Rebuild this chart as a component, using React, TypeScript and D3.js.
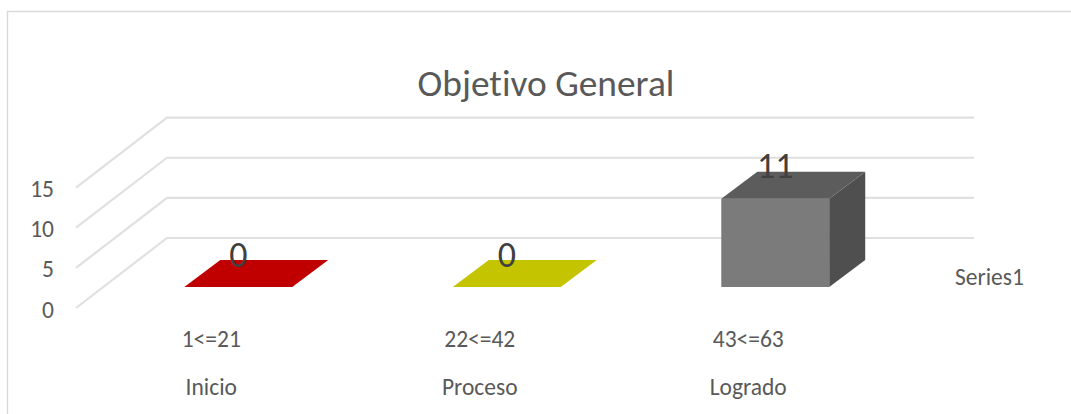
import * as d3 from 'd3';

const categories = ['Inicio', 'Proceso', 'Logrado'];
const ranges = ['1<=21', '22<=42', '43<=63'];
const values = [0, 0, 11];
const barColors = ['#c00000', '#c4c400', '#7b7b7b'];
const topColors = ['#c00000', '#c4c400', '#5c5c5c'];
const sideColors = ['#a00000', '#a3a300', '#4f4f4f'];
const yTicks = [0, 5, 10, 15];

const width = 1071;
const height = 414;
const font = 'Carlito, Calibri, Lato, sans-serif';

// floor of the 3D box: front-left corner and how far the back wall is shifted
const floorY = 308;
const wallDx = 91;
const wallDy = -70;
const gridRight = 974;
// bars sit part way into the floor
const barDx = 36;
const barDy = -27;
const barFrontY = 287;

const x = d3.scaleBand<string>()
  .domain(categories)
  .range([104, 909.5])
  .paddingInner(0.598)
  .paddingOuter(0.299);

const y = d3.scaleLinear().domain([0, 15]).range([0, -120.4]);

const line = d3.line();

export default function App() {
  return (
    <svg
      width={width}
      height={height}
      style={{ position: 'absolute', left: 0, top: 0, background: '#fff', fontVariantLigatures: 'none' }}
      fontFamily={font}
    >
      {/* only the top and left of the chart frame are in the picture */}
      <path d="M7.5,414V11.5H1071" fill="none" stroke="#d9d9d9" strokeWidth={1.4} />

      <text x={546} y={96} textAnchor="middle" fontSize={37.4} fill="#595959">
        Objetivo General
      </text>

      {yTicks.map((t) => (
        <g key={t}>
          <path
            d={line([
              [76, floorY + y(t)],
              [76 + wallDx, floorY + wallDy + y(t)],
              [gridRight, floorY + wallDy + y(t)],
            ]) ?? ''}
            fill="none"
            stroke="#e0e0e0"
            strokeWidth={2.2}
          />
          <text x={54} y={floorY + y(t) + 9.5} textAnchor="end" fontSize={23.5} fill="#595959">
            {t}
          </text>
        </g>
      ))}

      {categories.map((c, i) => {
        const x0 = x(c) ?? 0;
        const x1 = x0 + x.bandwidth();
        const top = barFrontY + y(values[i]);
        return (
          <g key={c}>
            {values[i] > 0 && (
              <>
                <rect x={x0} y={top} width={x.bandwidth()} height={barFrontY - top} fill={barColors[i]} />
                <path
                  d={`${line([
                    [x1, top],
                    [x1 + barDx, top + barDy],
                    [x1 + barDx, barFrontY + barDy],
                    [x1, barFrontY],
                  ])}Z`}
                  fill={sideColors[i]}
                />
              </>
            )}
            <path
              d={`${line([
                [x0, top],
                [x0 + barDx, top + barDy],
                [x1 + barDx, top + barDy],
                [x1, top],
              ])}Z`}
              fill={topColors[i]}
            />
            <text
              x={(x0 + x1) / 2}
              y={top + barDy + 6.5}
              textAnchor="middle"
              fontSize={36}
              fill="#404040"
            >
              {values[i]}
            </text>
            <text x={(x0 + x1) / 2 - 27} y={347} textAnchor="middle" fontSize={23.5} fill="#595959">
              {ranges[i]}
            </text>
            <text x={(x0 + x1) / 2 - 27} y={395} textAnchor="middle" fontSize={23.5} fill="#595959">
              {c}
            </text>
          </g>
        );
      })}

      <text x={955} y={285} fontSize={23.5} fill="#595959">
        Series1
      </text>
    </svg>
  );
}
